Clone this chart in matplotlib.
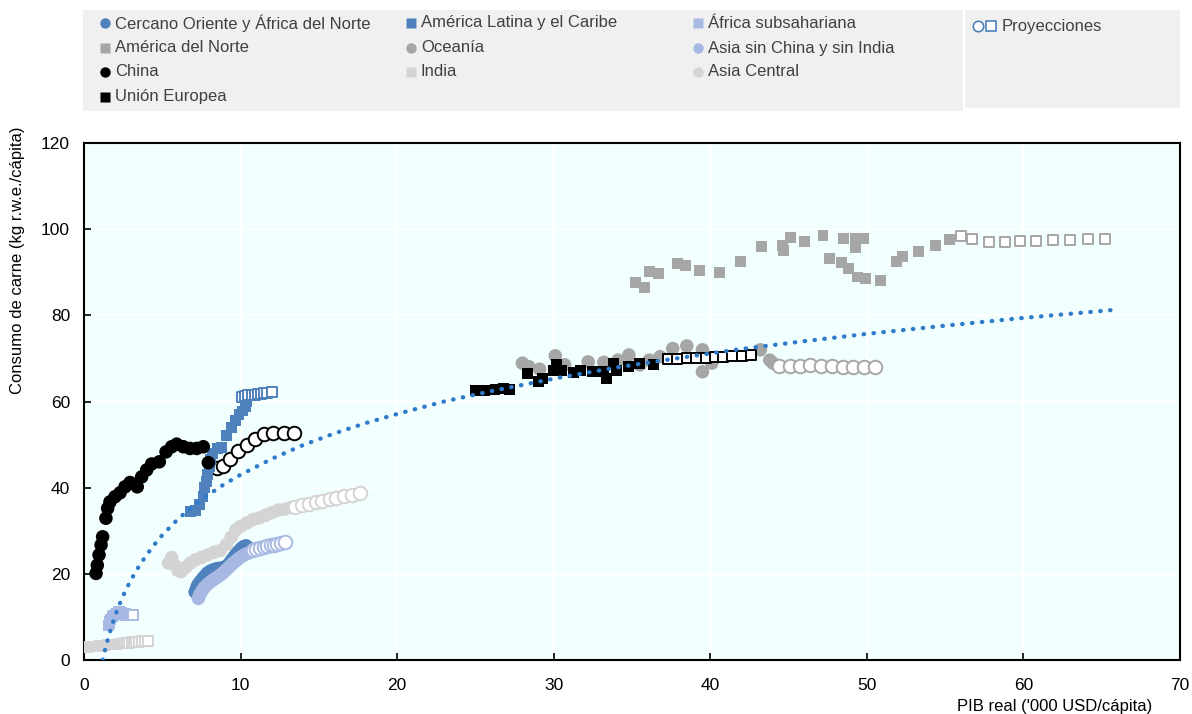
import numpy as np
import matplotlib
matplotlib.use('Agg')
import matplotlib.pyplot as plt
from matplotlib.patches import Rectangle

plt.rcParams['font.family'] = ['Liberation Sans Narrow', 'Liberation Sans', 'DejaVu Sans']

# --- datos (PIB real '000 USD/cápita, consumo kg r.w.e./cápita) ---
# Cercano Oriente y África del Norte
ne_x = [7.1, 7.2, 7.3, 7.45, 7.6, 7.75, 7.9, 8.1, 8.3, 8.5, 8.7, 8.9, 9.1, 9.3, 9.45, 9.6, 9.75, 9.9, 10.05, 10.2, 10.35, 10.5, 10.4]
ne_y = [15.8, 16.8, 17.6, 18.3, 19.0, 19.6, 20.2, 20.7, 21.0, 21.2, 21.3, 21.4, 21.8, 22.5, 23.3, 24.0, 24.7, 25.3, 25.9, 26.3, 26.5, 26.0, 24.8]

# América Latina y el Caribe
la_x = [6.8, 7.1, 7.4, 7.6, 7.7, 7.8, 7.9, 8.0, 8.1, 8.2, 8.5, 8.8, 9.1, 9.4, 9.7, 9.9, 10.1, 10.3, 10.4, 10.2]
la_y = [34.4, 34.8, 36.0, 38.0, 40.0, 41.5, 43.0, 44.8, 46.5, 48.0, 49.1, 49.3, 52.0, 54.0, 55.5, 57.0, 57.8, 58.8, 60.0, 61.0]
la_px = [10.1, 10.3, 10.5, 10.7, 10.9, 11.1, 11.3, 11.5, 11.7, 12.0]
la_py = [61.0, 61.2, 61.4, 61.5, 61.6, 61.7, 61.8, 61.9, 62.0, 62.1]

# África subsahariana
ssa_x = [1.55, 1.6, 1.65, 1.7, 1.8, 1.9, 2.0, 2.1, 2.2, 2.3, 2.4, 2.5]
ssa_y = [8.0, 8.5, 9.0, 9.5, 10.0, 10.3, 10.6, 10.9, 11.2, 11.3, 11.0, 10.8]
ssa_px = [2.5, 2.57, 2.64, 2.71, 2.78, 2.85, 2.92, 2.99, 3.06, 3.13]
ssa_py = [10.6, 10.6, 10.6, 10.5, 10.5, 10.5, 10.5, 10.4, 10.4, 10.4]

# América del Norte
na_x = [35.2, 35.8, 36.1, 36.7, 37.9, 38.4, 39.3, 40.6, 41.9, 43.3, 44.6, 44.7, 45.1, 46.0, 47.2,
        47.6, 48.5, 48.4, 48.8, 49.3, 49.3, 49.8, 49.4, 49.9, 50.9, 51.9, 52.3, 53.3, 54.4, 55.3]
na_y = [87.6, 86.4, 90.1, 89.7, 92.0, 91.5, 90.5, 89.9, 92.6, 95.9, 96.3, 95.1, 98.0, 97.2, 98.6,
        93.2, 97.8, 92.2, 90.8, 97.8, 95.7, 97.8, 88.9, 88.6, 88.0, 92.4, 93.7, 94.8, 96.2, 97.6]
na_px = [56.0, 56.7, 57.8, 58.8, 59.8, 60.8, 61.9, 63.0, 64.1, 65.2]
na_py = [98.4, 97.8, 97.0, 97.0, 97.2, 97.3, 97.6, 97.6, 97.7, 97.7]

# Oceanía
oc_x = [28.0, 28.4, 29.1, 30.1, 30.7, 32.2, 33.2, 34.1, 34.8, 35.5, 36.1, 36.8, 37.6, 38.5, 39.5, 39.5, 40.1, 43.2, 43.8, 44.0]
oc_y = [68.9, 68.1, 67.5, 70.6, 68.5, 69.2, 69.1, 69.6, 70.8, 68.5, 69.6, 70.4, 72.3, 72.9, 72.0, 66.9, 68.9, 72.0, 69.6, 68.9]
oc_px = [44.4, 45.1, 45.7, 46.4, 47.1, 47.8, 48.5, 49.1, 49.8, 50.5]
oc_py = [68.2, 68.2, 68.3, 68.4, 68.2, 68.2, 68.1, 68.1, 68.1, 68.0]

# Asia sin China y sin India
as_x = [7.3, 7.4, 7.55, 7.7, 7.9, 8.1, 8.3, 8.5, 8.7, 8.9, 9.1, 9.3, 9.5, 9.7, 9.9, 10.1, 10.3, 10.5]
as_y = [14.3, 15.2, 16.1, 16.9, 17.6, 18.2, 18.7, 19.2, 19.7, 20.3, 21.0, 21.7, 22.4, 23.0, 23.6, 24.1, 24.5, 24.8]
as_px = [10.8, 11.0, 11.25, 11.5, 11.7, 11.95, 12.15, 12.35, 12.6, 12.85]
as_py = [25.5, 25.8, 26.0, 26.2, 26.4, 26.6, 26.8, 27.0, 27.2, 27.4]

# China
cn_x = [0.77, 0.85, 0.96, 1.09, 1.19, 1.40, 1.51, 1.66, 1.98, 2.30, 2.62, 2.94, 3.40, 3.68, 4.0, 4.32,
        4.81, 5.24, 5.6, 5.92, 6.34, 6.77, 7.2, 7.62, 7.94]
cn_y = [20.1, 22.0, 24.4, 26.7, 28.6, 32.9, 35.2, 36.7, 37.9, 38.8, 40.2, 41.2, 40.2, 42.5, 44.1, 45.5,
        46.0, 48.3, 49.5, 50.1, 49.5, 49.1, 49.1, 49.5, 45.8]
cn_px = [8.5, 8.85, 9.3, 9.85, 10.4, 10.9, 11.5, 12.1, 12.8, 13.4]
cn_py = [44.5, 45.0, 46.6, 48.4, 49.9, 51.4, 52.4, 52.6, 52.7, 52.8]

# India
in_x = [0.25, 0.35, 0.5, 0.6, 0.7, 0.8, 0.9, 1.0, 1.1, 1.2, 1.35, 1.5, 1.65, 1.8, 1.95, 2.1, 2.25, 2.4]
in_y = [3.0, 3.1, 3.1, 3.1, 3.2, 3.2, 3.2, 3.3, 3.3, 3.4, 3.4, 3.5, 3.5, 3.6, 3.6, 3.7, 3.8, 3.8]
in_px = [2.6, 2.75, 2.9, 3.05, 3.2, 3.35, 3.5, 3.7, 3.9, 4.1]
in_py = [3.9, 4.0, 4.0, 4.1, 4.1, 4.2, 4.2, 4.3, 4.3, 4.4]

# Asia Central
ac_x = [5.4, 5.6, 5.8, 6.0, 6.2, 6.5, 6.8, 7.1, 7.5, 7.9, 8.3, 8.7, 9.1, 9.4, 9.7, 10.0, 10.4, 10.8,
        11.2, 11.6, 12.0, 12.4, 12.8, 13.2]
ac_y = [22.5, 23.8, 22.0, 20.8, 20.5, 21.5, 22.5, 23.2, 23.8, 24.4, 25.0, 25.4, 26.8, 28.5, 30.2, 31.0,
        31.8, 32.6, 33.0, 33.6, 34.2, 34.8, 35.0, 35.4]
ac_px = [13.5, 13.9, 14.4, 14.8, 15.2, 15.7, 16.1, 16.6, 17.1, 17.6]
ac_py = [35.6, 35.9, 36.3, 36.6, 37.0, 37.4, 37.7, 38.0, 38.3, 38.7]

# Unión Europea
eu_x = [25.0, 25.6, 26.25, 26.8, 27.2, 28.3, 29.0, 29.3, 30.0, 30.2, 30.5, 31.25, 31.7, 32.5, 33.2,
        33.4, 33.8, 34.0, 34.8, 35.5, 36.35]
eu_y = [62.5, 62.5, 62.8, 63.1, 62.8, 66.5, 64.6, 65.4, 67.3, 68.5, 67.3, 66.7, 67.2, 66.9, 66.9,
        65.4, 68.9, 67.3, 68.2, 68.9, 68.6]
eu_px = [37.3, 37.9, 38.5, 39.1, 39.7, 40.3, 40.8, 41.4, 42.0, 42.6]
eu_py = [69.8, 69.9, 70.0, 70.1, 70.2, 70.3, 70.4, 70.5, 70.6, 70.7]

# línea de tendencia
tr_x = [1.2, 1.35, 1.5, 1.7, 1.9, 2.1, 2.3, 2.6, 3.0, 3.5, 4.0, 4.5, 5.0, 6.0, 7.0, 8.0, 9.0, 10, 12, 14,
        16, 18, 20, 23, 26, 30, 34, 38, 42, 46, 50, 55, 60, 65.9]
tr_y = [0.0, 2.4, 4.5, 7.1, 9.3, 11.4, 13.2, 15.7, 18.6, 21.7, 24.4, 26.8, 29.0, 32.7, 35.8, 38.5, 40.9,
        43.0, 46.7, 49.9, 52.6, 55.0, 57.1, 60.0, 62.4, 65.3, 67.9, 70.1, 72.2, 74.0, 75.7, 77.6, 79.4, 81.3]

BLUE = '#4F81BD'
LAV = '#A7B9E3'
GRAY = '#A6A6A6'
LGRAY = '#D4D4D4'
TREND = '#2F7BCB'

CIRC = 95
SQ = 62

fig = plt.figure(figsize=(11.92, 7.14), dpi=100)
ax = fig.add_axes([84 / 1192, 1 - 660 / 714, 1096 / 1192, 517 / 714])
ax.set_facecolor('#F2FFFF')

def hist(x, y, marker, color, s, z):
    ax.scatter(x, y, marker=marker, s=s, color=color, edgecolors='none', zorder=z)

def proj(x, y, marker, color, s, z):
    ax.scatter(x, y, marker=marker, s=s, facecolors='white', edgecolors=color, linewidths=1.4, zorder=z)

hist(in_x, in_y, 's', LGRAY, SQ, 3)
proj(in_px, in_py, 's', LGRAY, SQ, 3.1)
hist(ssa_x, ssa_y, 's', LAV, SQ, 3.2)
proj(ssa_px, ssa_py, 's', LAV, SQ, 3.3)
hist(ac_x, ac_y, 'o', LGRAY, CIRC, 3.4)
proj(ac_px, ac_py, 'o', LGRAY, CIRC, 3.5)
hist(ne_x, ne_y, 'o', BLUE, CIRC, 3.6)
hist(as_x, as_y, 'o', LAV, CIRC, 3.7)
proj(as_px, as_py, 'o', LAV, CIRC, 3.8)
hist(oc_x, oc_y, 'o', GRAY, CIRC, 3.9)
proj(oc_px, oc_py, 'o', GRAY, CIRC, 4.0)
hist(na_x, na_y, 's', GRAY, SQ, 4.1)
proj(na_px, na_py, 's', GRAY, SQ, 4.2)
proj(cn_px, cn_py, 'o', 'black', CIRC, 4.3)
hist(la_x, la_y, 's', BLUE, SQ, 4.4)
proj(la_px, la_py, 's', BLUE, SQ, 4.5)
hist(cn_x, cn_y, 'o', 'black', CIRC, 4.6)
hist(eu_x, eu_y, 's', 'black', SQ, 4.7)
proj(eu_px, eu_py, 's', 'black', SQ, 4.8)

ax.plot(tr_x, tr_y, color=TREND, linewidth=3.1, linestyle=(0, (0.1, 2.2)),
        dash_capstyle='round', zorder=6)

ax.set_xlim(0, 70)
ax.set_ylim(0, 120)
ax.set_xticks(np.arange(0, 71, 10))
ax.set_yticks(np.arange(0, 121, 20))
ax.grid(True, color='white', linewidth=1.5)
ax.set_axisbelow(True)
for sp in ax.spines.values():
    sp.set_color('black')
    sp.set_linewidth(1.5)
ax.tick_params(axis='both', direction='in', length=5, width=1.2, labelsize=12.5, colors='black')
ax.tick_params(axis='x', pad=13)
ax.tick_params(axis='y', pad=10)

fig.text(18 / 1192, 1 - 126 / 714, 'Consumo de carne (kg r.w.e./cápita)', rotation=90,
         ha='center', va='top', fontsize=12)
fig.text(1152 / 1192, 1 - 706 / 714, "PIB real ('000 USD/cápita)", ha='right', va='center', fontsize=12)

# leyenda dibujada a mano
lax = fig.add_axes([0, 0, 1, 1], zorder=-1)
lax.set_xlim(0, 1192)
lax.set_ylim(714, 0)
lax.axis('off')
lax.add_patch(Rectangle((83, 10), 880, 101, facecolor='#F0F0F0', edgecolor='none'))
lax.add_patch(Rectangle((965, 10), 215, 98, facecolor='#F0F0F0', edgecolor='none'))

leg_items = [
    ('Cercano Oriente y África del Norte', 'o', BLUE),
    ('América Latina y el Caribe', 's', BLUE),
    ('África subsahariana', 's', LAV),
    ('América del Norte', 's', GRAY),
    ('Oceanía', 'o', GRAY),
    ('Asia sin China y sin India', 'o', LAV),
    ('China', 'o', 'black'),
    ('India', 's', LGRAY),
    ('Asia Central', 'o', LGRAY),
    ('Unión Europea', 's', 'black'),
]
col_x = [105, 411, 698]
row_y = [23, 48, 72, 97]
for i, (lab, mk, col) in enumerate(leg_items):
    cx = col_x[i % 3]
    cy = row_y[i // 3]
    lax.plot([cx], [cy], marker=mk, markersize=7.5, color=col, markeredgecolor='none', linestyle='none')
    lax.text(cx + 10, cy, lab, ha='left', va='center', fontsize=12, color='#404040')

lax.plot([978], [26], marker='o', markersize=7.5, markerfacecolor='white', markeredgecolor=BLUE,
         markeredgewidth=1.2, linestyle='none')
lax.plot([991], [26], marker='s', markersize=7, markerfacecolor='white', markeredgecolor=BLUE,
         markeredgewidth=1.2, linestyle='none')
lax.text(1002, 27, 'Proyecciones', ha='left', va='center', fontsize=12, color='#404040')

fig.savefig('out.png', dpi=100)
